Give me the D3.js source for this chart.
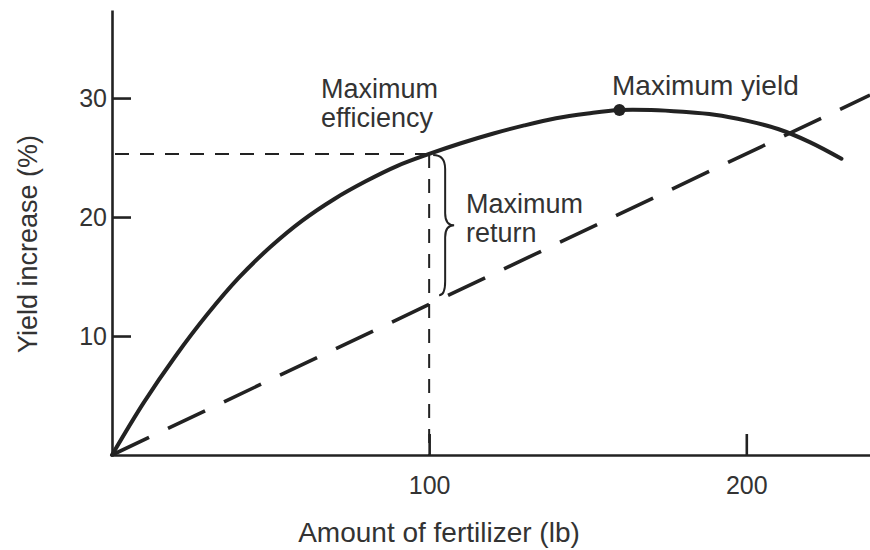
<!DOCTYPE html>
<html>
<head>
<meta charset="utf-8">
<script src="https://cdn.jsdelivr.net/npm/d3@7/dist/d3.min.js"></script>
<style>
  html, body { margin: 0; padding: 0; background: #fff; }
  svg { display: block; }
  text { font-family: "Liberation Sans", Arial, Helvetica, sans-serif; fill: #333; }
</style>
</head>
<body>
<svg id="chart" width="870" height="550"></svg>
<script>
// Fertilizer amount (lb) and resulting yield increase (%)
const fertilizer = [0, 10, 20, 30, 40, 50, 60, 70, 80, 90, 100, 110, 120, 130, 140, 150, 160, 170, 180, 190, 200, 210, 220, 230];
const yieldIncrease = [0, 4.4, 8.3, 11.8, 14.9, 17.5, 19.7, 21.5, 23.0, 24.3, 25.3, 26.2, 27.0, 27.7, 28.3, 28.7, 29.0, 29.0, 28.85, 28.6, 28.1, 27.4, 26.3, 24.9];

// Straight cost line (dashed)
const costX = [0, 239];
const costY = [0, 30.25];

// Marked points
const efficiencyX = 100;      // maximum efficiency / maximum return
const efficiencyY = 25.3;
const returnLowY = 12.66;     // cost line at the efficiency point
const maxYieldX = 160;
const maxYieldY = 29.0;

// Axis ticks
const xTicks = [100, 200];
const yTicks = [10, 20, 30];

const svg = d3.select("#chart");

const x = d3.scaleLinear().domain([0, 239]).range([112, 870]);
const y = d3.scaleLinear().domain([0, 37.4]).range([455, 10]);

const ink = "#222";

// Axes: ticks point into the plot
const xAxis = d3.axisBottom(x).tickValues(xTicks).tickSizeInner(-21).tickSizeOuter(0).tickPadding(21);
const yAxis = d3.axisLeft(y).tickValues(yTicks).tickSizeInner(-19).tickSizeOuter(0).tickPadding(5);

const gx = svg.append("g").attr("transform", `translate(0,${y(0)})`).call(xAxis);
const gy = svg.append("g").attr("transform", `translate(${x(0)},0)`).call(yAxis);

[gx, gy].forEach(g => {
  g.select(".domain").attr("stroke", ink).attr("stroke-width", 2.6);
  g.selectAll(".tick line").attr("stroke", ink).attr("stroke-width", 2.6);
  g.selectAll(".tick text")
    .attr("fill", "#333")
    .style("font-family", "'Liberation Sans', Arial, Helvetica, sans-serif")
    .style("font-size", "25px");
});

// Dashed guide lines to the maximum-efficiency point
svg.append("line")
  .attr("x1", x(0) + 3).attr("y1", y(efficiencyY))
  .attr("x2", x(efficiencyX)).attr("y2", y(efficiencyY))
  .attr("stroke", ink).attr("stroke-width", 2).attr("stroke-dasharray", "14,11");

svg.append("line")
  .attr("x1", x(efficiencyX)).attr("y1", y(efficiencyY))
  .attr("x2", x(efficiencyX)).attr("y2", y(0))
  .attr("stroke", ink).attr("stroke-width", 2).attr("stroke-dasharray", "14,11");

// Cost line
svg.append("path")
  .datum(costX.map((d, i) => [d, costY[i]]))
  .attr("fill", "none")
  .attr("stroke", ink)
  .attr("stroke-width", 3.6)
  .attr("stroke-dasharray", "41,21")
  .attr("d", d3.line().x(d => x(d[0])).y(d => y(d[1])));

// Yield response curve
svg.append("path")
  .datum(fertilizer.map((d, i) => [d, yieldIncrease[i]]))
  .attr("fill", "none")
  .attr("stroke", ink)
  .attr("stroke-width", 4)
  .attr("stroke-linecap", "round")
  .attr("d", d3.line().x(d => x(d[0])).y(d => y(d[1])).curve(d3.curveCatmullRom));

// Maximum-yield point
svg.append("circle")
  .attr("cx", x(maxYieldX)).attr("cy", y(maxYieldY))
  .attr("r", 6).attr("fill", ink);

// Curly brace spanning the return gap
const bx = x(efficiencyX);
const yTop = y(efficiencyY) + 1;
const yBot = y(returnLowY) - 9;
const yMid = (yTop + yBot) / 2;
const stem = bx + 16;
const tip = bx + 25;
const brace = d3.path();
brace.moveTo(bx + 4, yTop);
brace.quadraticCurveTo(stem, yTop, stem, yTop + 14);
brace.lineTo(stem, yMid - 12);
brace.quadraticCurveTo(stem, yMid, tip, yMid);
brace.quadraticCurveTo(stem, yMid, stem, yMid + 12);
brace.lineTo(stem, yBot - 14);
brace.quadraticCurveTo(stem, yBot, bx + 10, yBot);
svg.append("path")
  .attr("d", brace.toString())
  .attr("fill", "none")
  .attr("stroke", ink)
  .attr("stroke-width", 2);

// Annotations
function label(lines, px, py, size, lh) {
  const t = svg.append("text").attr("x", px).attr("y", py).style("font-size", size + "px");
  lines.forEach((s, i) => t.append("tspan").attr("x", px).attr("dy", i === 0 ? 0 : lh).text(s));
}
label(["Maximum", "efficiency"], 321, 98, 27, 29);
label(["Maximum", "return"], 466, 213, 27, 29);
label(["Maximum yield"], 612, 95, 28, 0);

// Axis titles
svg.append("text")
  .attr("x", 439).attr("y", 542)
  .attr("text-anchor", "middle")
  .style("font-size", "28px")
  .text("Amount of fertilizer (lb)");

svg.append("text")
  .attr("transform", "translate(37,244) rotate(-90)")
  .attr("text-anchor", "middle")
  .style("font-size", "27px")
  .text("Yield increase (%)");
</script>
</body>
</html>
